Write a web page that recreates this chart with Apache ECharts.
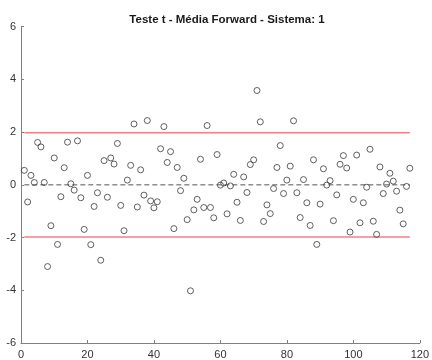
<!DOCTYPE html>
<html>
<head>
<meta charset="utf-8">
<script src="https://cdn.jsdelivr.net/npm/echarts@6/dist/echarts.min.js"></script>
<style>
  html, body { margin: 0; padding: 0; background: #fff; }
  #chart { width: 432px; height: 360px; }
</style>
</head>
<body>
<div id="chart"></div>
<script>
// Test statistic for each sample (sample number = position + 1)
const tValues = [
  0.55, -0.65, 0.36, 0.09, 1.61, 1.44, 0.09, -3.10, -1.55, 1.02,
  -2.26, -0.45, 0.65, 1.62, 0.04, -0.20, 1.67, -0.49, -1.69, 0.36,
  -2.27, -0.82, -0.30, -2.86, 0.92, -0.47, 1.02, 0.79, 1.57, -0.78,
  -1.74, 0.18, 0.74, 2.31, -0.84, 0.57, -0.39, 2.44, -0.61, -0.87,
  -0.64, 1.37, 2.21, 0.85, 1.26, -1.66, 0.66, -0.22, 0.25, -1.32,
  -4.02, -0.95, -0.55, 0.97, -0.86, 2.25, -0.86, -1.25, 1.15, -0.01,
  0.07, -1.10, -0.04, 0.40, -0.66, -1.35, 0.30, -0.29, 0.77, 0.95,
  3.58, 2.39, -1.39, -0.76, -1.09, -0.14, 0.66, 1.49, -0.33, 0.18,
  0.71, 2.43, -0.30, -1.24, 0.20, -0.68, -1.54, 0.95, -2.26, -0.73,
  0.61, -0.01, 0.16, -1.36, -0.38, 0.78, 1.11, 0.64, -1.79, -0.55,
  1.13, -1.44, -0.68, -0.09, 1.35, -1.38, -1.88, 0.68, -0.33, 0.03,
  0.44, 0.14, -0.24, -0.96, -1.48, -0.06, 0.63
];
const tCritical = 1.98;
const xRange = [1, 117];
const xTicks = [0, 20, 40, 60, 80, 100, 120];
const yTicks = [-6, -4, -2, 0, 2, 4, 6];
const titleText = 'Teste t - Média Forward - Sistema: 1';

const points = tValues.map((v, i) => [i + 1, v]);
const hLine = (y) => [[xRange[0], y], [xRange[1], y]];

const chart = echarts.init(document.getElementById('chart'), null, { renderer: 'canvas' });
const axisColor = '#7f7f7f';
const labelColor = '#333333';
const fontFamily = 'Liberation Sans, Arial, sans-serif';

chart.setOption({
  animation: false,
  backgroundColor: '#ffffff',
  title: {
    text: titleText,
    left: 222,
    textAlign: 'center',
    top: 9,
    textStyle: { fontSize: 11.5, fontWeight: 'bold', color: '#1a1a1a', fontFamily: fontFamily }
  },
  grid: { left: 21, right: 9, top: 26.7, bottom: 13.3, containLabel: false },
  xAxis: {
    type: 'value',
    min: xTicks[0],
    max: xTicks[xTicks.length - 1],
    interval: 20,
    axisLine: { show: true, onZero: false, lineStyle: { color: axisColor, width: 1 } },
    axisTick: { show: true, inside: true, length: 3, lineStyle: { color: axisColor } },
    axisLabel: { color: labelColor, fontSize: 11, margin: 6, fontFamily: fontFamily },
    splitLine: { show: false }
  },
  yAxis: {
    type: 'value',
    min: yTicks[0],
    max: yTicks[yTicks.length - 1],
    interval: 2,
    axisLine: { show: true, onZero: false, lineStyle: { color: axisColor, width: 1 } },
    axisTick: { show: true, inside: true, length: 3, lineStyle: { color: axisColor } },
    axisLabel: { color: labelColor, fontSize: 11, margin: 5, fontFamily: fontFamily },
    splitLine: { show: false }
  },
  series: [
    {
      type: 'line',
      data: hLine(tCritical),
      symbol: 'none',
      lineStyle: { color: '#f2808b', width: 1.5 },
      silent: true
    },
    {
      type: 'line',
      data: hLine(-tCritical),
      symbol: 'none',
      lineStyle: { color: '#f2808b', width: 1.5 },
      silent: true
    },
    {
      type: 'line',
      data: hLine(0),
      symbol: 'none',
      lineStyle: { color: '#555555', width: 1, type: [5, 3] },
      silent: true
    },
    {
      type: 'scatter',
      data: points,
      symbol: 'circle',
      symbolSize: 6,
      itemStyle: { color: 'rgba(255,255,255,0)', borderColor: '#3a3a3a', borderWidth: 1 },
      z: 5
    }
  ]
});
</script>
</body>
</html>
